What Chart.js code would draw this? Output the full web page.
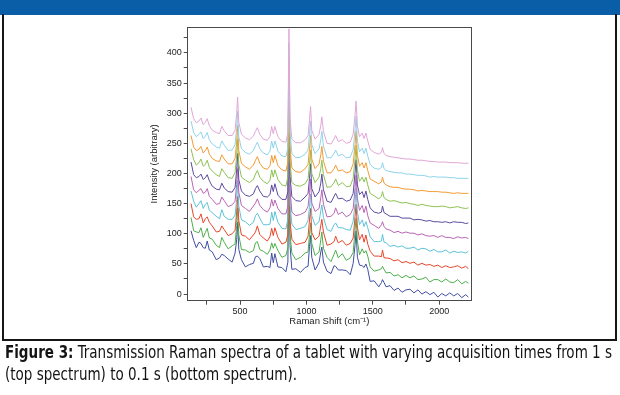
<!DOCTYPE html>
<html>
<head>
<meta charset="utf-8">
<script src="https://cdn.jsdelivr.net/npm/chart.js@4"></script>
<style>
html,body{margin:0;padding:0;background:#fff;width:620px;height:395px;overflow:hidden;}
#hdr{position:absolute;left:0;top:0;width:620px;height:15px;background:#0a5ea8;}
#box{position:absolute;left:2px;top:14px;width:615px;height:327px;box-sizing:border-box;border:2px solid #161616;border-top:none;}
#wrap{position:absolute;left:0;top:0;width:620px;height:395px;}
.cap{position:absolute;left:5px;font-family:"Liberation Sans Narrow","DejaVu Sans Condensed","Liberation Sans",sans-serif;font-size:17px;line-height:20px;color:#141414;white-space:nowrap;transform-origin:0 0;}
#cap1{top:342px;}
#cap2{top:364px;}
</style>
</head>
<body>
<div id="hdr"></div>
<div id="box"></div>
<div id="wrap"><canvas id="c" width="620" height="395"></canvas></div>
<div class="cap" id="cap1"><b>Figure 3:</b> Transmission Raman spectra of a tablet with varying acquisition times from 1 s</div>
<div class="cap" id="cap2">(top spectrum) to 0.1 s (bottom spectrum).</div>
<script>
// Raman shift (cm-1) sample positions
const ramanShift = [130,150,170,190,205,222,238,252,268,290,
 320,345,362,380,410,440,462,474,481,490,
 510,540,570,600,616,630,648,675,705,725,
 738,750,762,785,815,845,860,868,876,890,
 920,955,990,1012,1023,1031,1040,1065,1095,1108,
 1116,1128,1155,1185,1208,1220,1240,1270,1300,1330,
 1352,1366,1374,1384,1400,1420,1434,1448,1462,1480,
 1510,1545,1565,1573,1585,1600,1630,1660,1690,1720,
 1750,1780,1810,1840,1870,1900,1930,1960,1990,2020,
 2050,2080,2110,2140,2170,2200,2220];

// spectra, top (1 s) to bottom (0.1 s)
const t10 = [310,291,284,287,292,281,285,291,279,272,
 268,266,278,271,263,263,272,299,327,285,
 265,259,256,262,270,276,265,257,255,261,
 278,266,278,261,253,252,267,440,292,257,
 251,251,256,263,289,311,272,257,265,280,
 294,270,250,249,257,263,253,256,250,252,
 265,297,320,279,261,267,258,267,254,240,
 235,232,235,243,233,230,228,227,226,225,
 224,224,223,222,222,221,220,220,219,219,
 219,218,218,218,217,217,217];
const t09 = [287,268,261,265,269,258,262,268,256,249,
 244,242,254,247,238,239,248,275,303,261,
 241,235,232,238,246,252,241,234,231,237,
 254,242,254,237,229,228,243,416,268,233,
 226,227,232,239,265,287,248,233,241,256,
 270,246,226,226,233,239,229,232,226,227,
 240,272,295,254,236,242,233,242,229,215,
 209,207,210,218,208,205,203,202,201,201,
 199,199,198,197,197,196,194,195,194,194,
 194,193,193,192,192,192,192];
const t08 = [263,244,238,240,245,234,238,244,232,225,
 221,220,231,224,216,216,225,252,280,238,
 217,211,207,214,222,228,217,209,207,213,
 230,218,230,213,206,204,219,392,244,209,
 203,202,208,215,241,263,224,208,216,231,
 245,221,201,201,208,214,204,206,201,203,
 216,248,271,230,212,218,209,218,205,191,
 187,183,186,194,184,181,178,177,177,175,
 174,174,173,171,172,171,170,170,170,169,
 169,168,167,168,167,167,167];
const t07 = [241,223,214,218,224,212,215,222,210,204,
 198,195,208,202,193,192,202,229,257,215,
 194,189,185,190,199,205,194,187,183,189,
 206,194,206,190,181,179,195,368,220,185,
 180,179,183,191,217,239,200,185,194,208,
 222,198,177,178,185,191,180,185,178,179,
 192,224,247,206,187,194,186,194,181,167,
 163,158,162,170,160,157,154,155,153,151,
 152,150,149,147,149,147,146,145,145,146,
 145,143,144,145,143,142,143];
const t06 = [219,198,193,195,199,190,193,198,188,179,
 174,173,184,176,170,169,177,206,233,190,
 171,164,162,166,175,180,171,162,161,165,
 181,170,183,164,157,157,170,344,195,162,
 155,154,161,167,192,216,175,161,170,184,
 199,173,154,152,162,167,158,159,154,156,
 167,201,223,181,165,170,160,171,157,143,
 136,134,136,146,135,133,129,129,129,126,
 126,126,123,124,123,121,122,120,120,119,
 120,118,120,119,119,117,118];
const t05 = [195,173,168,172,175,167,169,175,162,157,
 149,150,161,155,145,148,154,182,208,169,
 147,142,137,146,151,158,147,140,136,143,
 157,146,156,142,133,133,146,320,174,136,
 130,132,136,145,168,191,151,137,142,160,
 173,149,128,129,134,143,132,136,128,132,
 142,175,197,158,139,147,135,146,130,118,
 114,109,115,120,112,108,106,102,104,101,
 103,101,101,98,100,97,96,97,94,97,
 94,94,92,95,93,94,92];
const t04 = [171,154,144,150,155,142,149,152,139,135,
 129,125,140,129,124,124,131,157,188,146,
 123,120,114,119,130,134,126,115,115,116,
 136,122,137,119,109,108,125,295,150,116,
 107,109,112,122,145,166,130,114,120,138,
 148,127,107,104,115,118,110,110,107,106,
 121,150,176,136,115,123,112,120,110,95,
 87,87,88,99,86,85,79,81,78,80,
 76,76,78,73,76,75,71,74,70,70,
 73,68,71,69,70,68,71];
const t03 = [150,128,124,125,133,118,125,128,119,113,
 103,104,113,107,97,100,106,137,162,122,
 98,96,90,98,103,113,99,93,88,95,
 109,97,110,94,83,86,98,273,122,91,
 82,84,86,96,123,142,102,90,96,114,
 124,103,81,83,87,96,85,89,81,84,
 93,128,149,111,90,99,86,98,83,71,
 63,63,62,73,60,60,59,55,57,52,
 54,51,53,48,51,48,49,46,48,44,
 47,44,45,47,43,46,42];
const t02 = [127,105,103,102,110,94,102,109,93,91,
 81,77,94,86,75,80,83,114,143,98,
 74,73,69,72,85,87,74,71,66,73,
 85,76,84,72,61,64,77,247,100,68,
 57,61,68,70,99,118,84,64,70,90,
 103,76,61,54,66,73,60,67,56,60,
 69,106,126,88,65,75,68,72,63,45,
 38,40,42,46,41,35,36,30,32,27,
 31,27,30,24,25,28,20,24,24,20,
 25,20,19,24,17,21,18];
const t01 = [105,89,77,86,84,77,76,88,73,70,
 57,60,66,64,58,53,68,90,119,74,
 57,45,49,51,62,63,59,45,46,44,
 68,52,67,45,44,37,53,227,81,41,
 42,36,44,46,79,97,61,40,52,70,
 78,53,38,34,47,46,40,40,39,32,
 51,81,105,61,48,47,44,50,41,21,
 22,12,19,24,19,12,14,6,10,3,
 7,8,2,7,0,4,-1,3,-5,1,
 -3,2,-3,1,-6,-1,-5];

const seriesLabels = ['1.0 s','0.9 s','0.8 s','0.7 s','0.6 s','0.5 s','0.4 s','0.3 s','0.2 s','0.1 s'];
const seriesValues = [t10,t09,t08,t07,t06,t05,t04,t03,t02,t01];
const seriesColors = ['#e2a6d6','#8fd3ea','#f39a33','#8cc152','#5b4b9e','#b865b5','#5cc3d6','#e8462a','#4daf4a','#3f4ea3'];

const xTickValues = [250,500,750,1000,1250,1500,1750,2000];
const xTickLabels = [500,1000,1500,2000];
const yTickValues = [0,25,50,75,100,125,150,175,200,225,250,275,300,325,350,375,400,425];
const yTickLabels = [0,50,100,150,200,250,300,350,400];

const tickFont = {family:'"Liberation Sans", Arial, sans-serif', size:9};
const frameColor = '#4a4a4a';

const datasets = seriesValues.map((vals, k) => ({
  label: seriesLabels[k],
  data: ramanShift.map((x, i) => ({x: x, y: vals[i]})),
  borderColor: seriesColors[k],
  borderWidth: 1,
  pointRadius: 0,
  tension: 0,
  fill: false
}));

new Chart(document.getElementById('c'), {
  type: 'line',
  data: {datasets: datasets},
  options: {
    responsive: false,
    animation: false,
    devicePixelRatio: 1,
    layout: {padding: {left: 145, right: 149, top: 27, bottom: 64.3}},
    plugins: {legend: {display: false}, tooltip: {enabled: false}},
    scales: {
      x: {
        type: 'linear', position: 'bottom', min: 105, max: 2240,
        afterBuildTicks: (a) => { a.ticks = xTickValues.map(v => ({value: v})); },
        afterFit: (a) => { a.height = 30; },
        ticks: {autoSkip: false, maxRotation: 0, padding: 1, color: '#222', font: tickFont,
          callback: (v) => xTickLabels.includes(v) ? String(v) : ''},
        grid: {display: true, drawOnChartArea: false, drawTicks: true, tickLength: 4, color: frameColor, lineWidth: 1},
        border: {display: true, color: frameColor, width: 1},
        title: {display: true, text: 'Raman Shift (cm\u207B\u00B9)', color: '#222',
          font: {family:'"Liberation Sans", Arial, sans-serif', size: 9.5}, padding: {top: 0, bottom: 4}}
      },
      y: {
        type: 'linear', position: 'left', min: -11, max: 443,
        afterBuildTicks: (a) => { a.ticks = yTickValues.map(v => ({value: v})); },
        afterFit: (a) => { a.width = 42.7; },
        ticks: {autoSkip: false, padding: 2, color: '#222', font: tickFont,
          callback: (v) => yTickLabels.includes(v) ? String(v) : ''},
        grid: {display: true, drawOnChartArea: false, drawTicks: true, tickLength: 4, color: frameColor, lineWidth: 1},
        border: {display: true, color: frameColor, width: 1},
        title: {display: true, text: 'Intensity (arbitrary)', color: '#222',
          font: {family:'"Liberation Sans", Arial, sans-serif', size: 9.5}, padding: {top: 4, bottom: 0}}
      },
      x2: {
        type: 'linear', position: 'top', min: 105, max: 2240,
        afterFit: (a) => { a.height = 0; },
        ticks: {display: false},
        grid: {display: false, drawTicks: false},
        border: {display: true, color: frameColor, width: 1}
      },
      y2: {
        type: 'linear', position: 'right', min: -11, max: 443,
        afterFit: (a) => { a.width = 0; },
        ticks: {display: false},
        grid: {display: false, drawTicks: false},
        border: {display: true, color: frameColor, width: 1}
      }
    }
  }
});

function fitCaption(){
  const l1 = document.getElementById('cap1');
  l1.style.transform = 'none';
  document.getElementById('cap2').style.transform = 'none';
  const w = l1.getBoundingClientRect().width;
  const s = 607 / w;
  ['cap1','cap2'].forEach(id => { document.getElementById(id).style.transform = 'scaleX(' + s + ')'; });
}
fitCaption();
if (document.fonts && document.fonts.ready) document.fonts.ready.then(fitCaption);
</script>
</body>
</html>
